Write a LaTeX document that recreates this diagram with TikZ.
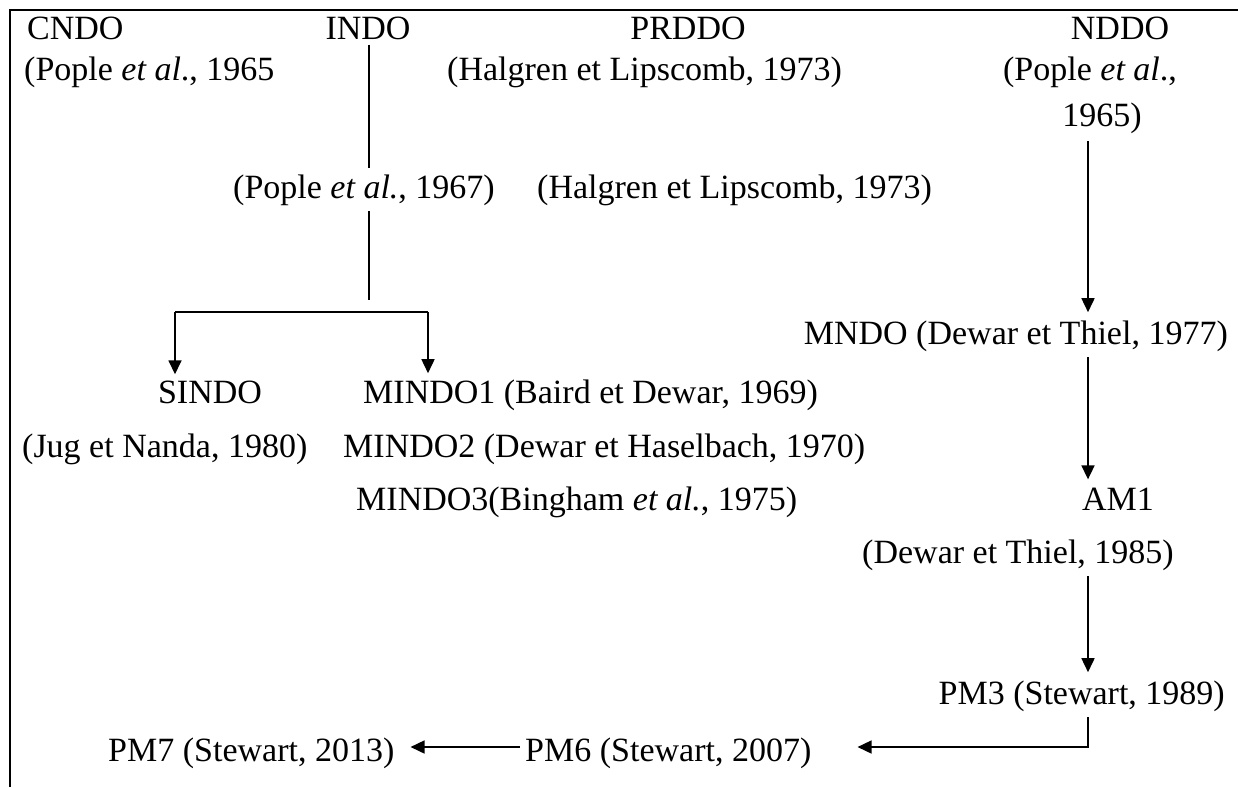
\documentclass[tikz,border=0pt]{standalone}
\usepackage{fontspec}
\setmainfont{Liberation Serif}
\usepackage{tikz}
\usetikzlibrary{arrows.meta,positioning,calc}
\newcommand{\etal}{\textit{et al.}}

\begin{document}
\begin{tikzpicture}[x=1pt, y=-1pt,
    every node/.style={font=\fontsize{34}{40}\selectfont, inner sep=0pt},
    link/.style={line width=1.6pt},
    flow/.style={line width=1.6pt, -{Triangle[length=14pt, width=13pt]}}]
    \useasboundingbox (0,0) rectangle (1238,787);
    % frame of the table cell
    \draw[line width=2.2pt] (10,787) -- (10,10) -- (1238,10);
    % first row
    \node[anchor=base west] (cndo) at (27,39) {CNDO};
    \node[anchor=base] (indo) at (368,39) {INDO};
    \node[anchor=base] (prddo) at (688,39) {PRDDO};
    \node[anchor=base] (nddo) at (1120,39) {NDDO};
    \node[anchor=base west] (cndoref) at (24,80) {(Pople \textit{et al}., 1965};
    \node[anchor=base west] (prddoref) at (447,80) {(Halgren et Lipscomb, 1973)};
    \node[anchor=base] (nddoref) at (1090,80) {(Pople \textit{et al}.,};
    \node[anchor=base] (nddoyear) at (1102,126) {1965)};
    \node[anchor=base west] (indoref) at (233,198) {(Pople \etal, 1967)};
    \node[anchor=base west] (halgren) at (537,198) {(Halgren et Lipscomb, 1973)};
    % NDDO branch
    \node[anchor=base east] (mndo) at (1228,344) {MNDO (Dewar et Thiel, 1977)};
    \node[anchor=base] (am1) at (1118,510) {AM1};
    \node[anchor=base] (am1ref) at (1018,563) {(Dewar et Thiel, 1985)};
    \node[anchor=base east] (pm3) at (1225,704) {PM3 (Stewart, 1989)};
    \node[anchor=base west] (pm6) at (525,761) {PM6 (Stewart, 2007)};
    \node[anchor=base west] (pm7) at (108,761) {PM7 (Stewart, 2013)};
    % INDO branch
    \node[anchor=base] (sindo) at (210,403) {SINDO};
    \node[anchor=base west] (sindoref) at (22,457) {(Jug et Nanda, 1980)};
    \node[anchor=base west] (mindo1) at (363,403) {MINDO1 (Baird et Dewar, 1969)};
    \node[anchor=base west] (mindo2) at (343,457) {MINDO2 (Dewar et Haselbach, 1970)};
    \node[anchor=base west] (mindo3) at (356,510) {MINDO3(Bingham \etal, 1975)};
    \coordinate (split) at (369,312);
    \coordinate (splitL) at (175,312);
    \coordinate (splitR) at (428,312);
    \coordinate (spine) at (1088,0);
    \coordinate (bend) at (1088,747);
    % connectors
    \draw[link] ($(indo.south -| split)+(0,5)$) -- ($(indoref.north -| split)+(0,-6)$);
    \draw[link] ($(indoref.south -| split)+(0,6)$) -- ($(split)+(0,-12)$);
    \draw[flow] (splitL) -- ($(sindo.north -| splitL)+(0,-6)$);
    \draw[link] (splitL) -- (splitR);
    \draw[flow] (splitR) -- ($(mindo1.north -| splitR)+(0,-6)$);
    \draw[flow] ($(nddoyear.south -| spine)+(0,8)$) -- ($(mndo.north -| spine)+(0,-8)$);
    \draw[flow] ($(mndo.south -| spine)+(0,6)$) -- ($(am1.north -| spine)+(0,-8)$);
    \draw[flow] ($(am1ref.south -| spine)+(0,6)$) -- ($(pm3.north -| spine)+(0,-8)$);
    \draw[flow] ($(pm3.south -| spine)+(0,6)$) -- (bend) -- ($(pm6.east |- bend)+(46,0)$);
    \draw[flow] ($(pm6.west |- bend)+(-5,0)$) -- ($(pm7.east |- bend)+(16,0)$);
\end{tikzpicture}
\end{document}
